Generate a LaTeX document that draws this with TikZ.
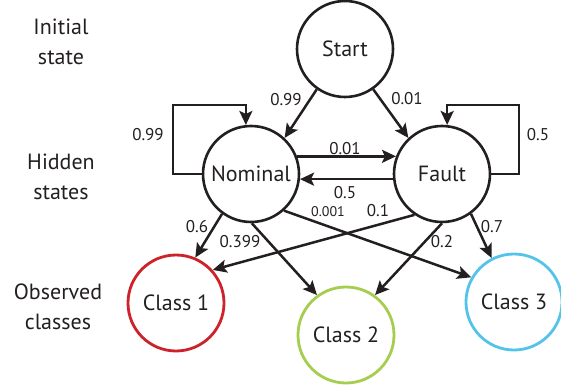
\documentclass[tikz,border=0pt]{standalone}
\usepackage{fontspec}
\setmainfont{PT Sans}
\usetikzlibrary{arrows.meta,calc}
\definecolor{ink}{HTML}{231F20}
\definecolor{cred}{HTML}{CC2229}
\definecolor{cgreen}{HTML}{A5CD4E}
\definecolor{cblue}{HTML}{54C3EA}
\begin{document}
\begin{tikzpicture}[x=1pt,y=-1pt,
  state/.style={circle,draw=ink,line width=2.6pt,minimum size=96pt,inner sep=0pt,
    text=ink,font=\fontsize{22}{26}\selectfont},
  cls/.style={state,line width=2.8pt},
  side/.style={align=center,text=ink,font=\fontsize{22}{30}\selectfont},
  lab/.style={text=ink,inner sep=0pt,font=\fontsize{17}{20}\selectfont},
  slab/.style={text=ink,inner sep=0pt,font=\fontsize{14}{16}\selectfont},
  arr/.style={draw=ink,line width=2.5pt,-{Stealth[length=14pt,width=13pt,inset=3pt]}}]
\useasboundingbox (0,0) rectangle (561,387);
% side labels
\node[side] (l1) at (61,42) {Initial\\state};
\node[side] (l2) at (61,177) {Hidden\\states};
\node[side] (l3) at (58,307) {Observed\\classes};
% states
\node[state] (start) at (345,49) {Start};
\node[state] (nom) at (251,174) {Nominal};
\node[state] (fault) at (442,174) {Fault};
\node[cls,draw=cred] (c1) at (176,303) {Class 1};
\node[cls,draw=cgreen] (c2) at (346,335) {Class 2};
\node[cls,draw=cblue] (c3) at (514,302) {Class 3};
% initial transitions
\draw[arr] (start.235) -- (nom.47);
\draw[arr] (start.305) -- (fault.133);
% self loops
\draw[arr] (nom.west) -| (173,105) -| (nom.96);
\draw[arr] (fault.east) -| (519,105) -| (fault.84);
% between states
\draw[arr] (nom.21) -- (fault.159);
\draw[arr] (fault.186) -- (nom.354);
% emissions
\draw[arr] (nom.234) -- (c1.67);
\draw[arr] (nom.271) -- (c2.126);
\draw[arr] (nom.312) -- (c3.150);
\draw[arr] (fault.236) -- (c1.42);
\draw[arr] (fault.270) -- (c2.54);
\draw[arr] (fault.306) -- (c3.117);
% labels
\node[lab] (p1) at (286,100) {0.99};
\node[lab] (p2) at (407,99) {0.01};
\node[lab] (p3) at (148,135) {0.99};
\node[lab] (p4) at (538,135) {0.5};
\node[lab] (p5) at (345,149) {0.01};
\node[lab] (p6) at (345,193) {0.5};
\node[slab] (p7) at (328,212) {0.001};
\node[lab] (p8) at (378,211) {0.1};
\node[lab] (p9) at (197,227) {0.6};
\node[lab] (p10) at (240,242) {0.399};
\node[lab] (p11) at (442,242) {0.2};
\node[lab] (p12) at (492,227) {0.7};
\end{tikzpicture}
\end{document}
